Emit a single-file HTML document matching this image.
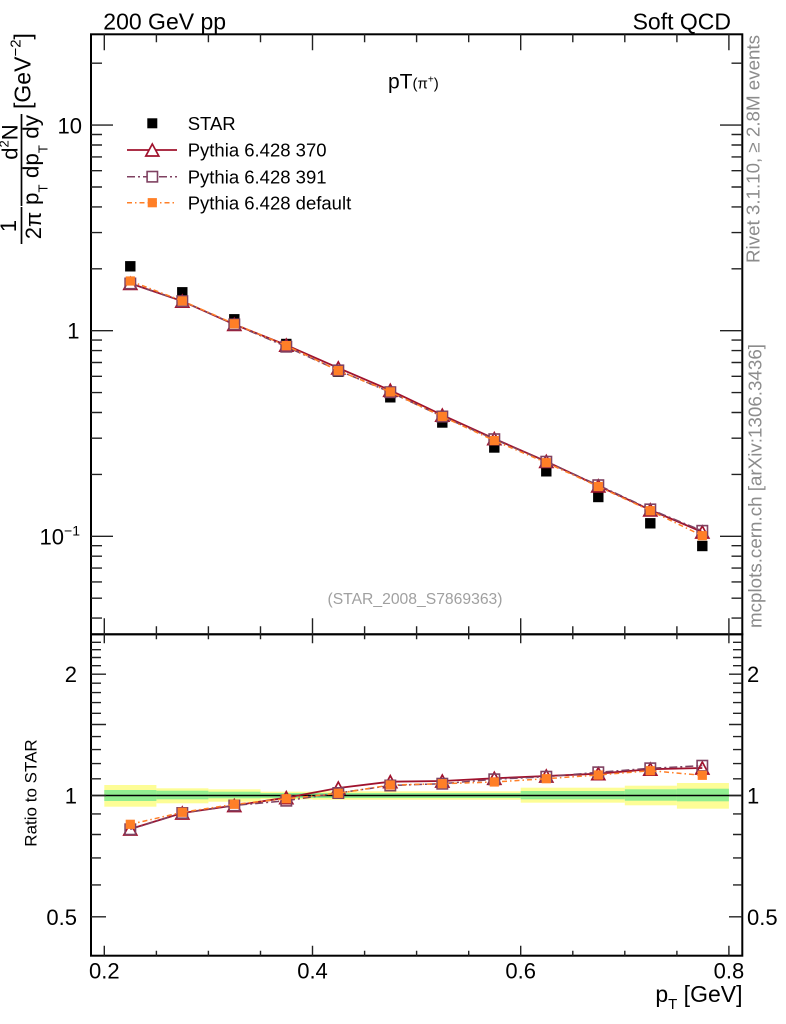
<!DOCTYPE html>
<html><head><meta charset="utf-8"><style>html,body{margin:0;padding:0;background:#fff}svg{display:block}text{font-family:"Liberation Sans","DejaVu Sans",sans-serif}</style></head>
<body>
<svg width="786" height="1024" viewBox="0 0 786 1024" xmlns="http://www.w3.org/2000/svg">
<defs>
<marker id="sq" markerUnits="userSpaceOnUse" markerWidth="16" markerHeight="16" refX="8" refY="8" overflow="visible"><rect x="2.8" y="2.8" width="10.4" height="10.4" fill="#000"/></marker>
<marker id="tri" markerUnits="userSpaceOnUse" markerWidth="16" markerHeight="16" refX="8" refY="8" overflow="visible"><path d="M8,2 L1.5,14 L14.5,14 Z" fill="none" stroke="#a0122d" stroke-width="1.7"/></marker>
<marker id="osq" markerUnits="userSpaceOnUse" markerWidth="16" markerHeight="16" refX="8" refY="8" overflow="visible"><rect x="2.8" y="2.8" width="10.4" height="10.4" fill="none" stroke="#7f4161" stroke-width="1.6"/></marker>
<marker id="fsq" markerUnits="userSpaceOnUse" markerWidth="16" markerHeight="16" refX="8" refY="8" overflow="visible"><rect x="3.4" y="3.4" width="9.2" height="9.2" fill="#ff7f27"/></marker>
</defs>

<!-- top texts -->
<text x="103.3" y="29.3" font-size="23">200 GeV pp</text>
<text x="731" y="29.3" font-size="23" text-anchor="end">Soft QCD</text>

<!-- right side grey texts -->
<text transform="translate(759.3,263) rotate(-90)" font-size="18" fill="#8c8c8c" textLength="228" lengthAdjust="spacingAndGlyphs">Rivet 3.1.10, ≥ 2.8M events</text>
<text transform="translate(761.5,628) rotate(-90)" font-size="18" fill="#8c8c8c" textLength="284" lengthAdjust="spacingAndGlyphs">mcplots.cern.ch [arXiv:1306.3436]</text>

<!-- Ratio bands -->
<g fill="#fdfd96">
<rect x="104.3" y="785" width="52.1" height="21.7"/>
<rect x="156.4" y="788.3" width="52" height="15"/>
<rect x="208.4" y="789.3" width="52.1" height="12.4"/>
<rect x="260.5" y="791.7" width="52" height="7.6"/>
<rect x="312.5" y="791.3" width="208.2" height="8.4"/>
<rect x="520.7" y="787.7" width="104.1" height="15"/>
<rect x="624.8" y="785.7" width="52.1" height="19.6"/>
<rect x="676.9" y="783" width="52" height="25.7"/>
</g>
<g fill="#90ee90">
<rect x="104.3" y="790" width="52.1" height="11"/>
<rect x="156.4" y="790.7" width="52" height="8.6"/>
<rect x="208.4" y="791.7" width="52.1" height="6.6"/>
<rect x="260.5" y="793" width="52" height="5"/>
<rect x="312.5" y="793" width="208.2" height="5"/>
<rect x="520.7" y="791" width="104.1" height="8.3"/>
<rect x="624.8" y="789.3" width="52.1" height="11.4"/>
<rect x="676.9" y="788.7" width="52" height="12.6"/>
</g>
<line x1="91" y1="795.5" x2="742.3" y2="795.5" stroke="#000" stroke-width="1.6"/>

<!-- Frames -->
<rect x="91" y="34.3" width="651.3" height="600" fill="none" stroke="#000" stroke-width="2"/>
<rect x="91" y="634.3" width="651.3" height="321.4" fill="none" stroke="#000" stroke-width="2"/>

<!-- Ticks -->
<g stroke="#222" stroke-width="1.4" fill="none">
<path d="M91 536.3H113M91 330.7H113M91 125.1H113
M91 618.1H102M91 598.2H102M91 581.9H102M91 568.1H102M91 556.2H102M91 545.7H102
M91 474.4H102M91 438.2H102M91 412.5H102M91 392.6H102M91 376.3H102M91 362.5H102M91 350.6H102M91 340.1H102
M91 268.8H102M91 232.6H102M91 206.9H102M91 187H102M91 170.7H102M91 156.9H102M91 145H102M91 134.5H102M91 63.2H102"/>
<path d="M742.3 536.3H720M742.3 330.7H720M742.3 125.1H720
M742.3 618.1H731.5M742.3 598.2H731.5M742.3 581.9H731.5M742.3 568.1H731.5M742.3 556.2H731.5M742.3 545.7H731.5
M742.3 474.4H731.5M742.3 438.2H731.5M742.3 412.5H731.5M742.3 392.6H731.5M742.3 376.3H731.5M742.3 362.5H731.5M742.3 350.6H731.5M742.3 340.1H731.5
M742.3 268.8H731.5M742.3 232.6H731.5M742.3 206.9H731.5M742.3 187H731.5M742.3 170.7H731.5M742.3 156.9H731.5M742.3 145H731.5M742.3 134.5H731.5M742.3 63.2H731.5"/>
<path d="M91 916.8H106M91 795.5H106M91 724.5H106M91 674.2H106
M91 884.9H101M91 857.9H101M91 834.5H101M91 813.9H101M91 778.8H101M91 763.6H101M91 749.6H101M91 736.6H101
M91 713.3H101M91 702.6H101M91 692.6H101M91 683.2H101M91 665.7H101M91 657.5H101M91 649.7H101M91 642.3H101"/>
<path d="M742.3 916.8H729M742.3 795.5H729M742.3 724.5H729M742.3 674.2H729
M742.3 884.9H733M742.3 857.9H733M742.3 834.5H733M742.3 813.9H733M742.3 778.8H733M742.3 763.6H733M742.3 749.6H733M742.3 736.6H733
M742.3 713.3H733M742.3 702.6H733M742.3 692.6H733M742.3 683.2H733M742.3 665.7H733M742.3 657.5H733M742.3 649.7H733M742.3 642.3H733"/>
<path d="M104.3 34.3V50.3M312.5 34.3V50.3M520.7 34.3V50.3M728.9 34.3V50.3
M156.4 34.3V42.3M208.4 34.3V42.3M260.5 34.3V42.3M364.6 34.3V42.3M416.6 34.3V42.3M468.7 34.3V42.3M572.8 34.3V42.3M624.8 34.3V42.3M676.9 34.3V42.3"/>
<path d="M104.3 634.3V618.3M312.5 634.3V618.3M520.7 634.3V618.3M728.9 634.3V618.3
M156.4 634.3V626.3M208.4 634.3V626.3M260.5 634.3V626.3M364.6 634.3V626.3M416.6 634.3V626.3M468.7 634.3V626.3M572.8 634.3V626.3M624.8 634.3V626.3M676.9 634.3V626.3"/>
<path d="M104.3 634.3V643.3M312.5 634.3V643.3M520.7 634.3V643.3M728.9 634.3V643.3
M156.4 634.3V639.3M208.4 634.3V639.3M260.5 634.3V639.3M364.6 634.3V639.3M416.6 634.3V639.3M468.7 634.3V639.3M572.8 634.3V639.3M624.8 634.3V639.3M676.9 634.3V639.3"/>
<path d="M104.3 955.7V945.7M312.5 955.7V945.7M520.7 955.7V945.7M728.9 955.7V945.7
M156.4 955.7V950.7M208.4 955.7V950.7M260.5 955.7V950.7M364.6 955.7V950.7M416.6 955.7V950.7M468.7 955.7V950.7M572.8 955.7V950.7M624.8 955.7V950.7M676.9 955.7V950.7"/>
</g>

<!-- Main tick labels -->
<text x="82" y="133.5" font-size="22" text-anchor="end">10</text>
<text x="79.5" y="338.5" font-size="22" text-anchor="end">1</text>
<text x="80" y="544.5" font-size="22" text-anchor="end">10<tspan font-size="14" dy="-9">−1</tspan></text>

<!-- Ratio tick labels -->
<text x="77" y="682" font-size="22" text-anchor="end">2</text>
<text x="77" y="803.5" font-size="22" text-anchor="end">1</text>
<text x="77" y="925" font-size="22" text-anchor="end">0.5</text>
<text x="747" y="682" font-size="22">2</text>
<text x="747" y="803.5" font-size="22">1</text>
<text x="747" y="925" font-size="22">0.5</text>

<!-- X tick labels -->
<text x="104.3" y="978.3" font-size="22" text-anchor="middle">0.2</text>
<text x="312.5" y="978.3" font-size="22" text-anchor="middle">0.4</text>
<text x="520.7" y="978.3" font-size="22" text-anchor="middle">0.6</text>
<text x="728.9" y="978.3" font-size="22" text-anchor="middle">0.8</text>

<!-- X axis title -->
<text x="742.5" y="1002" font-size="23" text-anchor="end">p<tspan font-size="15" dy="7">T</tspan><tspan dy="-7"> [GeV]</tspan></text>

<!-- Ratio y title -->
<text transform="translate(36.5,793) rotate(-90)" font-size="17" text-anchor="middle">Ratio to STAR</text>

<!-- Main y title -->
<g transform="translate(0,244) rotate(-90)">
<text x="18" y="16" font-size="22" text-anchor="middle">1</text>
<line x1="0" y1="21.5" x2="37" y2="21.5" stroke="#000" stroke-width="1.7"/>
<text x="18.5" y="41" font-size="22" text-anchor="middle">2π</text>
<text x="102" y="17.5" font-size="22" text-anchor="middle">d<tspan font-size="13" dy="-9">2</tspan><tspan dy="9">N</tspan></text>
<line x1="38" y1="21.5" x2="130" y2="21.5" stroke="#000" stroke-width="1.7"/>
<text x="39" y="38.5" font-size="22" textLength="90" lengthAdjust="spacingAndGlyphs">p<tspan font-size="13" dy="9">T</tspan><tspan dy="-9"> dp</tspan><tspan font-size="13" dy="9">T</tspan><tspan dy="-9"> dy</tspan></text>
<text x="173" y="30.5" font-size="23" text-anchor="middle">[GeV<tspan font-size="15" dy="-10">−2</tspan><tspan dy="10">]</tspan></text>
</g>

<!-- Title -->
<text x="388" y="88.3" font-size="21">pT<tspan font-size="15">(π<tspan font-size="10" dy="-6">+</tspan><tspan dy="6">)</tspan></tspan></text>

<!-- Legend -->
<rect x="147.3" y="118.3" width="10" height="10" fill="#000"/>
<text x="187.7" y="130" font-size="18.5">STAR</text>
<line x1="127" y1="150" x2="177" y2="150" stroke="#a0122d" stroke-width="1.8"/>
<path d="M152.3,144 L145.8,156 L158.8,156 Z" fill="#fff" stroke="#a0122d" stroke-width="1.7"/>
<text x="187.7" y="156.7" font-size="18.5">Pythia 6.428 370</text>
<line x1="127" y1="176.7" x2="177" y2="176.7" stroke="#7f4161" stroke-width="1.5" stroke-dasharray="8 3 2 3"/>
<rect x="147.1" y="171.5" width="10.4" height="10.4" fill="#fff" stroke="#7f4161" stroke-width="1.6"/>
<text x="187.7" y="183.4" font-size="18.5">Pythia 6.428 391</text>
<line x1="127" y1="202.7" x2="177" y2="202.7" stroke="#ff7f27" stroke-width="1.5" stroke-dasharray="5 3 1.5 3"/>
<rect x="147.7" y="198.1" width="9.2" height="9.2" fill="#ff7f27"/>
<text x="187.7" y="209.4" font-size="18.5">Pythia 6.428 default</text>

<!-- Analysis id -->
<text x="415" y="604" font-size="15.7" fill="#a0a0a0" text-anchor="middle">(STAR_2008_S7869363)</text>

<!-- Main data -->
<polyline points="130.3,266.3 182.3,292.3 234.3,319.3 286.3,344 338.3,371.7 390.3,397.3 442.3,422.5 494.3,447.5 546.3,471.3 598.3,497 650.3,523.3 702.3,546" fill="none" stroke="none" marker-start="url(#sq)" marker-mid="url(#sq)" marker-end="url(#sq)"/>
<polyline points="130.3,283.4 182.3,301.2 234.3,324.4 286.3,345.1 338.3,367.9 390.3,390.3 442.3,415.1 494.3,438.7 546.3,461.4 598.3,485.9 650.3,509.9 702.3,532" fill="none" stroke="#a0122d" stroke-width="1.8" marker-start="url(#tri)" marker-mid="url(#tri)" marker-end="url(#tri)"/>
<polyline points="130.3,283.5 182.3,301.2 234.3,324.4 286.3,346.7 338.3,370.4 390.3,392.2 442.3,416.5 494.3,439.2 546.3,461.7 598.3,485.2 650.3,509.4 702.3,530.8" fill="none" stroke="#7f4161" stroke-width="1.5" stroke-dasharray="8 3 2 3" marker-start="url(#osq)" marker-mid="url(#osq)" marker-end="url(#osq)"/>
<polyline points="130.3,281 182.3,300.9 234.3,323.8 286.3,345.6 338.3,370.6 390.3,391.9 442.3,416.5 494.3,440.6 546.3,462.7 598.3,486.5 650.3,510.7 702.3,535.7" fill="none" stroke="#ff7f27" stroke-width="1.5" stroke-dasharray="5 3 1.5 3" marker-start="url(#fsq)" marker-mid="url(#fsq)" marker-end="url(#fsq)"/>

<!-- Ratio data -->
<polyline points="130.3,829 182.3,813 234.3,805.5 286.3,797.7 338.3,788 390.3,781.7 442.3,781 494.3,778.3 546.3,776 598.3,773.7 650.3,769.2 702.3,768" fill="none" stroke="#a0122d" stroke-width="1.8" marker-start="url(#tri)" marker-mid="url(#tri)" marker-end="url(#tri)"/>
<polyline points="130.3,829.3 182.3,813 234.3,805.5 286.3,800.7 338.3,793 390.3,785.5 442.3,783.7 494.3,779.3 546.3,776.7 598.3,772.3 650.3,768.3 702.3,765.7" fill="none" stroke="#7f4161" stroke-width="1.5" stroke-dasharray="8 3 2 3" marker-start="url(#osq)" marker-mid="url(#osq)" marker-end="url(#osq)"/>
<polyline points="130.3,824.3 182.3,812.3 234.3,804.3 286.3,798.7 338.3,793.3 390.3,785 442.3,783.7 494.3,782 546.3,778.7 598.3,775 650.3,770.7 702.3,775.3" fill="none" stroke="#ff7f27" stroke-width="1.5" stroke-dasharray="5 3 1.5 3" marker-start="url(#fsq)" marker-mid="url(#fsq)" marker-end="url(#fsq)"/>
</svg>
</body></html>
